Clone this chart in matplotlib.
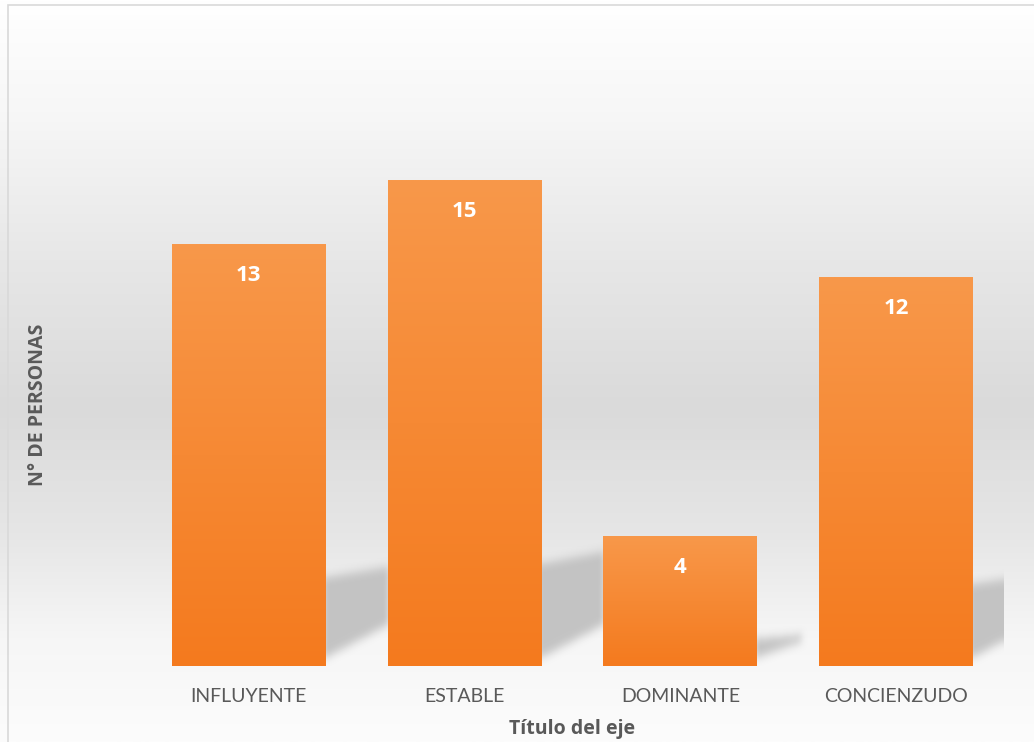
import numpy as np
import matplotlib.pyplot as plt
from matplotlib.patches import Rectangle
from matplotlib.colors import LinearSegmentedColormap

# data
categorias = ["INFLUYENTE", "ESTABLE", "DOMINANTE", "CONCIENZUDO"]
personas = [13, 15, 4, 12]
titulo_x = "Título del eje"
titulo_y = "N° DE PERSONAS"

plt.rcParams['font.family'] = ['Lato', 'DejaVu Sans']
bold_font = ['Open Sans', 'DejaVu Sans']

W, H = 1034, 742
fig = plt.figure(figsize=(W / 100, H / 100), dpi=100)

# background gradient of the chart area
bg = fig.add_axes([0, 0, 1, 1], zorder=0)
bg_cmap = LinearSegmentedColormap.from_list("bg", [
    (0.0, "#ffffff"), (0.15, "#f7f7f7"), (0.35, "#e7e7e7"), (0.55, "#dadada"),
    (0.72, "#e6e6e6"), (0.86, "#f6f6f6"), (1.0, "#fcfcfc")])
bg.imshow(np.linspace(0, 1, 256).reshape(-1, 1), cmap=bg_cmap, aspect="auto",
          extent=(0, 1, 0, 1), origin="upper")
bg.add_patch(Rectangle((8 / W, -0.1), 1.2, 1 - 5 / H + 0.1, fill=False,
                       edgecolor="#d9d9d9", linewidth=1.2))
bg.set_xlim(0, 1)
bg.set_ylim(0, 1)
bg.axis("off")

# main axes
ymax = 18
left, right = 141 / W, 1004 / W
bottom = (H - 666) / H
top_px = 666 - ymax * 32.4
ax = fig.add_axes([left, bottom, right - left, (666 - top_px) / H], zorder=1)
ax.patch.set_alpha(0)
x = np.arange(len(categorias))
w = 0.713
bars = ax.bar(x, personas, width=w, color="none", zorder=3)
xlim = (-0.5, len(categorias) - 0.5)
ax.set_xlim(*xlim)
ax.set_ylim(0, ymax)


def box_blur(a, r, axis):
    pad = [(0, 0), (0, 0)]
    pad[axis] = (r + 1, r)
    c = np.cumsum(np.pad(a, pad, mode="edge"), axis=axis)
    n = a.shape[axis]
    hi = np.take(c, np.arange(2 * r + 1, 2 * r + 1 + n), axis=axis)
    lo = np.take(c, np.arange(0, n), axis=axis)
    return (hi - lo) / (2 * r + 1)


# soft perspective shadows, rasterised on a grid in data units
nx, ny = 863, 583
gx = np.linspace(xlim[0], xlim[1], nx)
gy = np.linspace(0, ymax, ny)
X, Y = np.meshgrid(gx, gy)
mask = np.zeros_like(X)
for b, v in zip(bars, personas):
    x1 = b.get_x() + b.get_width()
    sw = min(0.29, 0.052 * v)
    t_l, t_r = 0.21 * v, 0.235 * v
    b_r = min(1.27, 0.8 * t_r)
    f = (X - x1) / sw
    inside = (f >= -0.05) & (f <= 1)
    fc = np.clip(f, 0, 1)
    lo = 0.25 + (b_r - 0.25) * fc
    hi = t_l + (t_r - t_l) * fc
    mask[inside & (Y >= lo) & (Y <= hi)] = 1
for _ in range(2):
    mask = box_blur(mask, 5, 0)
    mask = box_blur(mask, 3, 1)
shadow = np.zeros((ny, nx, 4))
shadow[..., :3] = 0.76
shadow[..., 3] = np.clip(mask, 0, 1) * 0.95
ax.imshow(shadow, origin="lower", aspect="auto",
          extent=(xlim[0], xlim[1], 0, ymax), zorder=2)

# bars with vertical gradient
bar_cmap = LinearSegmentedColormap.from_list("bar", ["#f47a1e", "#f8984a"])
grad = np.linspace(0, 1, 256).reshape(-1, 1)
for b, v in zip(bars, personas):
    x0, x1 = b.get_x(), b.get_x() + b.get_width()
    h = b.get_height()
    ax.imshow(grad, cmap=bar_cmap, aspect="auto", origin="lower",
              extent=(x0, x1, 0, h), zorder=3)
    ax.text(b.get_x() + b.get_width() / 2, h - 31 / 32.4, str(v),
            ha="center", va="center", color="white", fontsize=16,
            fontweight="bold", family=bold_font, zorder=4)
ax.set_xlim(*xlim)
ax.set_ylim(0, ymax)

ax.set_xticks(x)
ax.set_xticklabels(categorias, fontsize=14, color="#595959")
ax.tick_params(axis="x", length=0, pad=16)
ax.set_yticks([])
for s in ax.spines.values():
    s.set_visible(False)

ax.set_xlabel(titulo_x, fontsize=14, fontweight="bold", color="#595959",
              family=bold_font, labelpad=10)
ax.set_ylabel(titulo_y, fontsize=14, fontweight="bold", color="#595959",
              family=bold_font)
ax.yaxis.set_label_coords((48 - 141) / 863, (666 - 405) / (666 - top_px))

fig.savefig("out.png", dpi=100)
